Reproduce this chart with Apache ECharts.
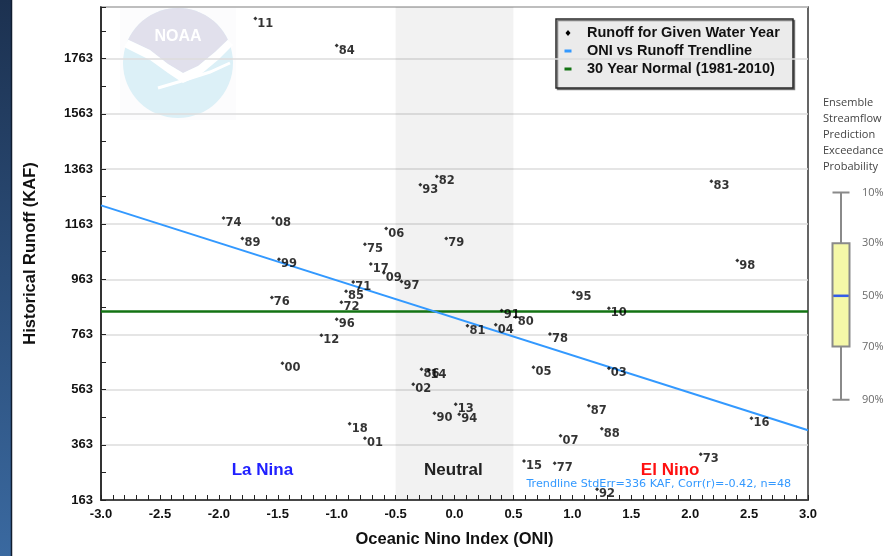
<!DOCTYPE html>
<html><head><meta charset="utf-8">
<script src="https://cdn.jsdelivr.net/npm/echarts@6/dist/echarts.min.js"></script>
<style>html,body{margin:0;padding:0;background:#fff}#c{width:894px;height:556px}</style>
</head><body><div id="c"></div>
<script>
// ---- data ----
const years = ['11','84','74','08','89','99','75','06','17','93','82','83','79','98','09','97','71','85','76','72','96','12','00','18','01','95','10','91','80','81','04','78','05','03','86','14','02','13','90','94','87','88','16','07','73','15','77','92'];
const oni = [-1.69,-1.00,-1.96,-1.54,-1.80,-1.49,-0.76,-0.58,-0.71,-0.29,-0.15,2.18,-0.07,2.40,-0.60,-0.45,-0.86,-0.92,-1.55,-0.96,-1.00,-1.13,-1.46,-0.89,-0.76,1.01,1.31,0.40,0.52,0.11,0.35,0.81,0.67,1.31,-0.28,-0.22,-0.35,0.01,-0.17,0.04,1.14,1.25,2.52,0.90,2.09,0.59,0.85,1.21];
const runoff = [1908,1810,1185,1185,1111,1036,1090,1147,1018,1306,1336,1318,1111,1031,987,955,953,920,897,880,818,760,659,439,387,916,858,850,826,795,798,765,644,641,637,633,583,510,477,474,505,421,459,396,329,304,296,202];
const trendOni = [-3, 3];
const trendRunoff = [1231, 416];
const normalRunoff = 846;
const neutralRange = [-0.5, 0.5];
const espLabels = ['10%','30%','50%','70%','90%'];
const espRunoff = [1278, 1094, 903, 719, 526];
const yMin = 163, yMax = 1950, yStep = 200;
const xMin = -3, xMax = 3, xStep = 0.5;

const chart = echarts.init(document.getElementById('c'), null, {renderer: 'canvas'});
const F = 'Liberation Sans, Arial, sans-serif';

// NOAA watermark shapes (decoration)
const cx = 178, cy = 63, R = 55;
const lav = [];
for (let a = 155; a >= 25; a -= 5) {
  const r = a * Math.PI / 180;
  lav.push([cx + R * Math.cos(r), cy - R * Math.sin(r)]);
}
lav.push([215, 52], [198, 66], [183, 73], [168, 64], [150, 50]);
const bird = [[124, 47], [150, 60], [168, 73], [183, 83], [200, 75], [218, 60], [233, 45],
  [227.8, 39.8], [215, 52], [198, 66], [183, 73], [168, 64], [150, 50], [128.2, 39.8]];

const option = {
  animation: false,
  backgroundColor: '#fff',
  grid: [
    {left: 101, right: 86, top: 7, bottom: 56, show: true, borderColor: '#333', borderWidth: 1.5, backgroundColor: 'transparent'},
    {left: 820, width: 42, top: 7, bottom: 56, show: false}
  ],
  xAxis: [{
    type: 'value', min: xMin, max: xMax, interval: xStep,
    axisLine: {show: true, onZero: false, lineStyle: {color: '#222', width: 1.5}},
    axisTick: {show: true, inside: true, length: 5, lineStyle: {color: '#222'}},
    minorTick: {show: true, splitNumber: 5, length: 5, lineStyle: {color: '#222'}},
    splitLine: {show: false},
    axisLabel: {formatter: v => v.toFixed(1), fontFamily: F, fontWeight: 'bold', fontSize: 13, color: '#111', margin: 8},
    name: 'Oceanic Nino Index (ONI)', nameLocation: 'middle', nameGap: 31,
    nameTextStyle: {fontFamily: F, fontWeight: 'bold', fontSize: 16.5, color: '#111'}
  }, {
    gridIndex: 1, type: 'category', data: ['ESP'], show: false
  }],
  yAxis: [{
    type: 'value', min: yMin, max: yMax, interval: yStep,
    axisLine: {show: true, onZero: false, lineStyle: {color: '#222', width: 1.5}},
    axisTick: {show: true, inside: true, length: 5, lineStyle: {color: '#222'}},
    minorTick: {show: true, splitNumber: 2, length: 5, lineStyle: {color: '#222'}},
    splitLine: {show: true, lineStyle: {color: '#dcdcdc', width: 1.5}},
    axisLabel: {formatter: v => ((v - yMin) % yStep === 0 ? String(v) : ''), fontFamily: F, fontWeight: 'bold', fontSize: 13, color: '#111', margin: 8},
    name: 'Historical Runoff (KAF)', nameLocation: 'middle', nameGap: 62, nameRotate: 90,
    nameTextStyle: {fontFamily: F, fontWeight: 'bold', fontSize: 16.5, color: '#111'}
  }, {
    gridIndex: 1, type: 'value', min: yMin, max: yMax, show: false
  }],
  graphic: [
    {type: 'rect', z: 10, shape: {x: 0, y: 0, width: 11, height: 556},
      style: {fill: new echarts.graphic.LinearGradient(0, 0, 0, 1, [{offset: 0, color: '#1c3150'}, {offset: 1, color: '#3a69a0'}])}},
    {type: 'line', z: 10, shape: {x1: 11.5, y1: 0, x2: 11.5, y2: 556}, style: {stroke: '#101d30', lineWidth: 1.5}},
    {type: 'group', z: 1, children: [
      {type: 'rect', shape: {x: 120, y: 8, width: 116, height: 112}, style: {fill: '#fcfcfd'}},
      {type: 'circle', shape: {cx: cx, cy: cy, r: R}, style: {fill: '#dcf0f7'}},
      {type: 'polygon', shape: {points: lav}, style: {fill: '#e1e0ec'}},
      {type: 'polygon', shape: {points: bird}, style: {fill: '#ffffff'}},
      {type: 'polyline', shape: {points: [[158, 88], [185, 80], [210, 72], [230, 63]]}, style: {stroke: '#ffffff', lineWidth: 3, fill: null}},
      {type: 'text', style: {x: cx, y: 37, text: 'NOAA', align: 'center', verticalAlign: 'middle', fill: '#ffffff', font: 'bold 16px ' + F}}
    ]},
    {type: 'group', x: 556, y: 19, z: 20, children: [
      {type: 'rect', shape: {x: 0, y: 0, width: 237, height: 69},
        style: {fill: '#ebebeb', stroke: '#2a2a2a', lineWidth: 1.5, shadowOffsetX: 1.5, shadowOffsetY: 1.5, shadowColor: 'rgba(0,0,0,0.45)', shadowBlur: 0}},
      {type: 'polygon', shape: {points: [[12, 11], [14.5, 14], [12, 17], [9.5, 14]]}, style: {fill: '#000'}},
      {type: 'rect', shape: {x: 8.5, y: 30.5, width: 7, height: 3}, style: {fill: '#3399ff'}},
      {type: 'rect', shape: {x: 8.5, y: 48.5, width: 7, height: 3}, style: {fill: '#137313'}},
      {type: 'text', style: {x: 31, y: 14, text: 'Runoff for Given Water Year', verticalAlign: 'middle', fill: '#111', font: 'bold 14.5px ' + F}},
      {type: 'text', style: {x: 31, y: 32, text: 'ONI vs Runoff Trendline', verticalAlign: 'middle', fill: '#111', font: 'bold 14.5px ' + F}},
      {type: 'text', style: {x: 31, y: 50, text: '30 Year Normal (1981-2010)', verticalAlign: 'middle', fill: '#111', font: 'bold 14.5px ' + F}}
    ]},
    {type: 'text', z: 20, style: {x: 823, y: 95, text: 'Ensemble\nStreamflow\nPrediction\nExceedance\nProbability',
      lineHeight: 16, fill: '#444', font: '11px Open Sans, sans-serif'}}
  ],
  series: [
    {
      name: 'band', type: 'scatter', data: [], z: 1,
      markArea: {silent: true, itemStyle: {color: 'rgba(0,0,0,0.05)'},
        data: [[{xAxis: neutralRange[0]}, {xAxis: neutralRange[1]}]]}
    },
    {
      name: '30 Year Normal (1981-2010)', type: 'line', z: 3, symbol: 'none',
      data: [[xMin, normalRunoff], [xMax, normalRunoff]],
      lineStyle: {color: '#137313', width: 2.5},
      markPoint: {
        symbolSize: 0, silent: true,
        label: {show: true, position: 'inside', formatter: '{b}', fontFamily: F, fontWeight: 'bold', fontSize: 17},
        data: [
          {name: 'La Nina', coord: [-1.63, 270], label: {color: '#2020ff'}},
          {name: 'Neutral', coord: [-0.01, 270], label: {color: '#222'}},
          {name: 'El Nino', coord: [1.83, 270], label: {color: '#ff1010'}},
          {name: 'Trendline StdErr=336 KAF, Corr(r)=-0.42, n=48', coord: [0.61, 221],
            label: {position: 'right', distance: 0, color: '#3399ff', fontWeight: 'normal', fontSize: 11.2, fontFamily: 'DejaVu Sans, sans-serif'}}
        ]
      }
    },
    {
      name: 'ONI vs Runoff Trendline', type: 'line', z: 4, symbol: 'none',
      data: trendOni.map((x, i) => [x, trendRunoff[i]]),
      lineStyle: {color: '#3399ff', width: 2}
    },
    {
      name: 'Runoff for Given Water Year', type: 'scatter', z: 5,
      symbol: 'diamond', symbolSize: 4,
      itemStyle: {color: '#000'},
      data: oni.map((x, i) => ({name: years[i], value: [x, runoff[i]]})),
      label: {show: true, position: 'right', distance: 0, offset: [0, 5], formatter: '{b}',
        fontFamily: 'DejaVu Sans, sans-serif', fontWeight: 'bold', fontSize: 11.5, color: '#000'}
    },
    {
      name: 'ESP', type: 'boxplot', xAxisIndex: 1, yAxisIndex: 1, boxWidth: [17, 17],
      itemStyle: {color: '#f5f8a8', borderColor: '#8a8a8a', borderWidth: 2},
      data: [[espRunoff[4], espRunoff[3], espRunoff[2], espRunoff[1], espRunoff[0]]]
    },
    {
      name: 'ESP median', type: 'scatter', xAxisIndex: 1, yAxisIndex: 1, z: 6,
      symbol: 'rect', symbolSize: [15, 2.5], itemStyle: {color: '#1a4dff'},
      data: [['ESP', espRunoff[2]]]
    },
    {
      name: 'ESP labels', type: 'scatter', xAxisIndex: 1, yAxisIndex: 1, symbolSize: 0,
      data: espRunoff.map((v, i) => ({name: espLabels[i], value: ['ESP', v]})),
      label: {show: true, position: 'right', distance: 21, formatter: '{b}', fontFamily: 'Open Sans, sans-serif', fontSize: 11, color: '#444'}
    }
  ]
};
chart.setOption(option);
</script>
</body></html>
